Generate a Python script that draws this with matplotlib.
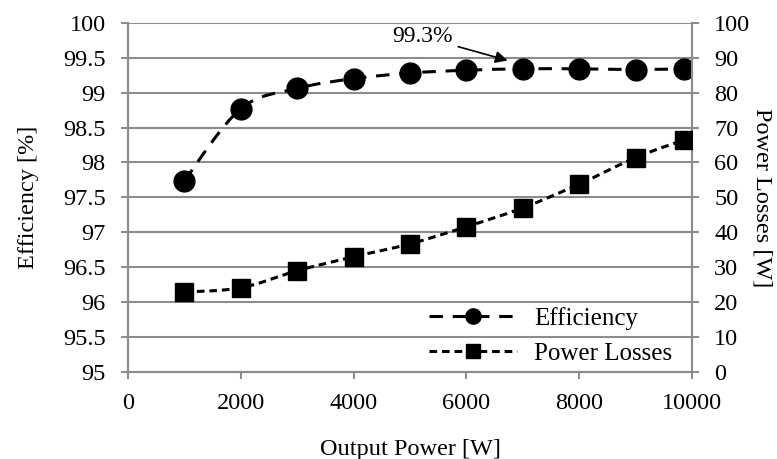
import numpy as np
import matplotlib.pyplot as plt
from matplotlib.path import Path
from matplotlib.patches import PathPatch
from matplotlib.lines import Line2D

power = [1000, 2000, 3000, 4000, 5000, 6000, 7000, 8000, 9000, 9850]
efficiency = [97.74, 98.77, 99.06, 99.20, 99.28, 99.32, 99.34, 99.34, 99.33, 99.34]
losses = [22.9, 24.1, 29.0, 33.0, 36.7, 41.6, 47.0, 53.8, 61.4, 66.4]

plt.rcParams['font.family'] = ['Liberation Serif', 'DejaVu Serif']
plt.rcParams['font.size'] = 17.5

GRAY = '#8c8c8c'


def smooth_path(x, y):
    # excel style smoothed line: catmull-rom segments as bezier curves
    x = np.asarray(x, float)
    y = np.asarray(y, float)
    verts = [(x[0], y[0])]
    codes = [Path.MOVETO]
    n = len(x)
    for i in range(n - 1):
        i0 = max(i - 1, 0)
        i3 = min(i + 2, n - 1)
        c1 = (x[i] + (x[i + 1] - x[i0]) / 6, y[i] + (y[i + 1] - y[i0]) / 6)
        c2 = (x[i + 1] - (x[i3] - x[i]) / 6, y[i + 1] - (y[i3] - y[i]) / 6)
        verts += [c1, c2, (x[i + 1], y[i + 1])]
        codes += [Path.CURVE4] * 3
    return Path(verts, codes)


fig = plt.figure(figsize=(7.77, 4.59), dpi=100)
ax1 = fig.add_axes([0.1647, 0.1895, 0.726, 0.761])
ax2 = ax1.twinx()

eff_dash = (0, (4.4, 3.2))
loss_dash = (0, (2.5, 1.6))
LW = 2.2

ax1.add_patch(PathPatch(smooth_path(power, efficiency), fill=False,
                        lw=LW, ls=eff_dash, color='black', zorder=3))
ax1.plot(power, efficiency, ls='none', marker='o', ms=15, color='black', zorder=4)

ax2.add_patch(PathPatch(smooth_path(power, losses), fill=False,
                        lw=LW, ls=loss_dash, color='black', zorder=3))
ax2.plot(power, losses, ls='none', marker='s', ms=13.5, color='black', zorder=4)

ax1.set_xlim(0, 10000)
ax1.set_ylim(95, 100)
ax2.set_ylim(0, 100)
ax1.set_xticks(range(0, 10001, 2000))
ax1.set_yticks(np.arange(95, 100.01, 0.5))
ax1.set_yticklabels(['95', '95.5', '96', '96.5', '97', '97.5', '98', '98.5',
                     '99', '99.5', '100'])
ax2.set_yticks(range(0, 101, 10))

ax1.grid(axis='y', color=GRAY, lw=1.5)
ax1.set_axisbelow(True)
for ax in (ax1, ax2):
    for s in ax.spines.values():
        s.set_color(GRAY)
        s.set_linewidth(1.5)
    ax.spines['top'].set_visible(False)
    ax.tick_params(colors=GRAY, width=1.5, length=5, pad=11, labelcolor='black')
ax1.tick_params(axis='x', pad=10)

ax1.set_xlabel('Output Power [W]', labelpad=18)
ax1.set_ylabel('Efficiency [%]', labelpad=17)
ax2.set_ylabel('Power Losses [W]', rotation=-90, labelpad=16)

ax1.annotate('99.3%', xy=(6730, 99.46), xytext=(5220, 99.8),
             ha='center', va='center', fontsize=17,
             arrowprops=dict(arrowstyle='-|>', color='black', lw=1.2,
                             mutation_scale=18, shrinkA=2, shrinkB=0))

handles = [
    Line2D([], [], color='black', lw=LW, ls=eff_dash, marker='o', ms=11),
    Line2D([], [], color='black', lw=LW, ls=loss_dash, marker='s', ms=10),
]
ax2.legend(handles, ['Efficiency', 'Power Losses'], loc='lower right',
           bbox_to_anchor=(0.965, 0.02), borderpad=0, borderaxespad=0,
           frameon=False, handlelength=3.5, handletextpad=0.7,
           labelspacing=0.5, fontsize=18)

fig.savefig('out.png', dpi=100)
